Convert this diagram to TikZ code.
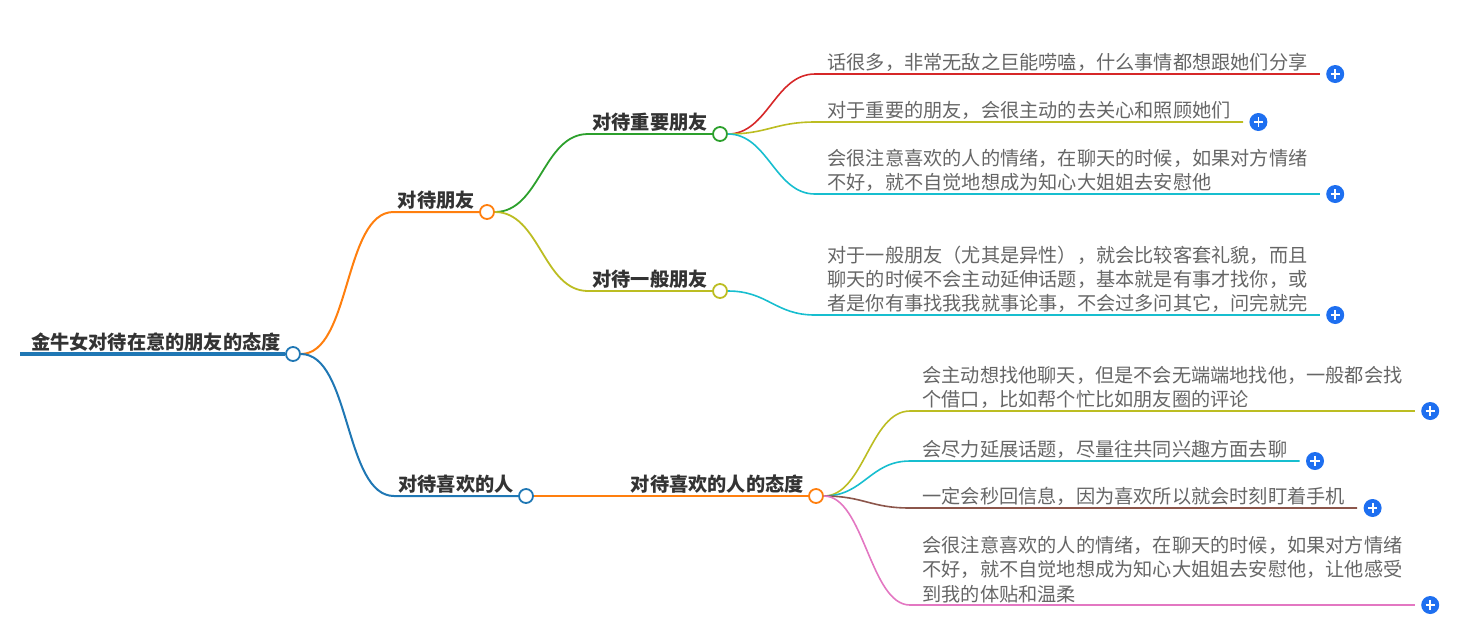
\documentclass[tikz,border=0pt]{standalone}
\usepackage{fontspec}
\setmainfont{Noto Sans CJK SC}
\usetikzlibrary{positioning}
\definecolor{tabblue}{HTML}{1F77B4}
\definecolor{taborange}{HTML}{FF7F0E}
\definecolor{tabgreen}{HTML}{2CA02C}
\definecolor{tabred}{HTML}{D62728}
\definecolor{tabolive}{HTML}{BCBD22}
\definecolor{tabcyan}{HTML}{17BECF}
\definecolor{tabbrown}{HTML}{8C564B}
\definecolor{tabpink}{HTML}{E377C2}
\definecolor{plusblue}{HTML}{1E6FF0}
\definecolor{topictext}{HTML}{333333}
\definecolor{leaftext}{HTML}{666666}
\tikzset{
  topic/.style={anchor=south east, font=\bfseries\fontsize{9.6pt}{12pt}\selectfont,
    text=topictext, inner xsep=2pt, inner ysep=1pt},
  leaf/.style={anchor=south west, align=left, font=\fontsize{9.6pt}{12.1pt}\selectfont,
    text=leaftext, inner xsep=6pt, inner ysep=1pt},
  dot/.style={circle, draw=#1, fill=white, line width=0.9pt, minimum size=7pt, inner sep=0pt},
  plus/.style={circle, fill=plusblue, minimum size=9pt, inner sep=0pt,
    path picture={
      \draw[white, line width=0.9pt]
        ([xshift=-2.3pt]path picture bounding box.center) -- ([xshift=2.3pt]path picture bounding box.center)
        ([yshift=-2.3pt]path picture bounding box.center) -- ([yshift=2.3pt]path picture bounding box.center);
    }},
  link/.style={draw=#1, line width=0.8pt}
}

\begin{document}
\begin{tikzpicture}[x=0.5pt, y=-0.5pt]
\useasboundingbox (0,0) rectangle (1482,634);
% circles on the branches
\node[dot=tabblue] (rc) at (293,354) {};
\node[dot=taborange] (c1) at (487,212) {};
\node[dot=tabblue] (c2) at (526,496) {};
\node[dot=tabgreen] (c11) at (720,134) {};
\node[dot=tabolive] (c12) at (720,291) {};
\node[dot=taborange] (c21) at (816,496) {};
% topic labels
\node[topic] (root) at (rc.west) {金牛女对待在意的朋友的态度};
\node[topic] (l1) at (c1.west) {对待朋友};
\node[topic] (l2) at (c2.west) {对待喜欢的人};
\node[topic] (l11) at (c11.west) {对待重要朋友};
\node[topic] (l12) at (c12.west) {对待一般朋友};
\node[topic] (l21) at (c21.west) {对待喜欢的人的态度};
% leaf texts
\node[leaf] (t111) at (815,74) {话很多，非常无敌之巨能唠嗑，什么事情都想跟她们分享};
\node[leaf] (t112) at (815,122) {对于重要的朋友，会很主动的去关心和照顾她们};
\node[leaf] (t113) at (815,194) {会很注意喜欢的人的情绪，在聊天的时候，如果对方情绪\\不好，就不自觉地想成为知心大姐姐去安慰他};
\node[leaf] (t121) at (815,315) {对于一般朋友（尤其是异性），就会比较客套礼貌，而且\\聊天的时候不会主动延伸话题，基本就是有事才找你，或\\者是你有事找我我就事论事，不会过多问其它，问完就完};
\node[leaf] (t211) at (910,411) {会主动想找他聊天，但是不会无端端地找他，一般都会找\\个借口，比如帮个忙比如朋友圈的评论};
\node[leaf] (t212) at (910,461) {会尽力延展话题，尽量往共同兴趣方面去聊};
\node[leaf] (t213) at (910,508) {一定会秒回信息，因为喜欢所以就会时刻盯着手机};
\node[leaf] (t214) at (910,605) {会很注意喜欢的人的情绪，在聊天的时候，如果对方情绪\\不好，就不自觉地想成为知心大姐姐去安慰他，让他感受\\到我的体贴和温柔};
% plus buttons
\foreach \t in {t111, t112, t113, t121, t211, t212, t213, t214} {
  \node[plus, right=3pt of \t.south east] (p\t) {};
}
% root line
\coordinate (rstart) at (20,354);
\draw[link=tabblue, line width=2pt] (rstart) -- (rc.west);
% first level
\draw[link=taborange, line width=1pt] (rc.east) .. controls +(50,0) and +(-50,0) .. (l1.south west) -- (c1.west);
\draw[link=tabblue, line width=1pt] (rc.east) .. controls +(50,0) and +(-50,0) .. (l2.south west) -- (c2.west);
% second level
\draw[link=tabgreen, line width=0.9pt] (c1.east) .. controls +(45,0) and +(-45,0) .. (l11.south west) -- (c11.west);
\draw[link=tabolive, line width=0.9pt] (c1.east) .. controls +(45,0) and +(-45,0) .. (l12.south west) -- (c12.west);
\draw[link=taborange, line width=0.9pt] (c2.east) -- (c21.west);
% leaves
\draw[link=tabred] (c11.east) .. controls +(40,0) and +(-40,0) .. (t111.south west) -- (t111.south east);
\draw[link=tabolive] (c11.east) .. controls +(40,0) and +(-40,0) .. (t112.south west) -- (t112.south east);
\draw[link=tabcyan] (c11.east) .. controls +(40,0) and +(-40,0) .. (t113.south west) -- (t113.south east);
\draw[link=tabcyan] (c12.east) .. controls +(40,0) and +(-40,0) .. (t121.south west) -- (t121.south east);
\draw[link=tabolive] (c21.east) .. controls +(40,0) and +(-40,0) .. (t211.south west) -- (t211.south east);
\draw[link=tabcyan] (c21.east) .. controls +(40,0) and +(-40,0) .. (t212.south west) -- (t212.south east);
\draw[link=tabbrown] (c21.east) .. controls +(40,0) and +(-40,0) .. (t213.south west) -- (t213.south east);
\draw[link=tabpink] (c21.east) .. controls +(40,0) and +(-40,0) .. (t214.south west) -- (t214.south east);
\end{tikzpicture}
\end{document}
